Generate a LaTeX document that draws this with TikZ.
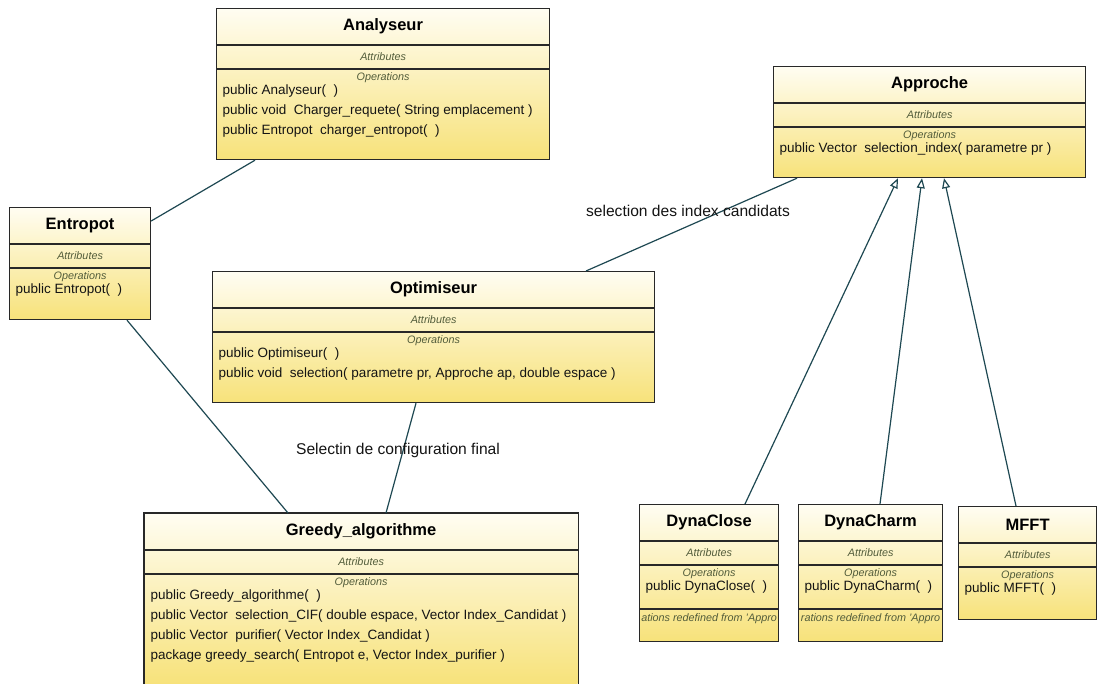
\documentclass[tikz,border=0pt]{standalone}
\usepackage{fontspec}
\setmainfont{Liberation Sans}
\usetikzlibrary{calc,arrows.meta}

\definecolor{boxline}{RGB}{40,40,40}
\definecolor{boxtop}{RGB}{255,253,242}
\definecolor{boxbottom}{RGB}{247,226,122}
\definecolor{linkline}{RGB}{30,72,82}
\definecolor{subtext}{RGB}{82,92,58}
\definecolor{optext}{RGB}{20,20,20}

\tikzset{
  classbox/.style={draw=boxline, line width=1.2pt, rectangle, inner sep=0pt,
    anchor=north west, top color=boxtop, bottom color=boxbottom},
  classname/.style={font=\fontsize{16.5}{16.5}\selectfont\bfseries, text=black, inner sep=0pt},
  classrule/.style={draw=boxline, line width=1.1pt},
  compartment/.style={font=\fontsize{10.8}{10.8}\selectfont\itshape, text=subtext, inner sep=0pt},
  operation/.style={font=\fontsize{13.5}{13.5}\selectfont, text=optext, inner sep=0pt, anchor=west},
  link/.style={draw=linkline, line width=1.2pt},
  inherits/.style={link, -{Triangle[open, length=10pt, width=8pt]}},
  linklabel/.style={font=\fontsize{15.6}{15.6}\selectfont, text=optext, inner sep=0pt}
}

% class box: name, x, y, width, height, title
\newcommand{\umlclass}[6]{%
  \node[classbox, minimum width=#4, minimum height=#5] (#1) at (#2,#3) {};
  \node[classname] (#1-name) at ($(#1.north)+(0,18.5)$) {#6};
  \draw[classrule] ($(#1.north west)+(0,37)$) -- ($(#1.north east)+(0,37)$);
  \draw[classrule] ($(#1.north west)+(0,61)$) -- ($(#1.north east)+(0,61)$);
  \node[compartment] (#1-attr) at ($(#1.north)+(0,49)$) {Attributes};
  \node[compartment] (#1-ops) at ($(#1.north)+(0,70)$) {Operations};
}
% operation line: class, index (0 = first), text
\newcommand{\umlop}[3]{%
  \node[operation] (#1-op#2) at ($(#1.north west)+(6.5,83+20*#2)$) {#3};
}

\begin{document}
\begin{tikzpicture}[x=1pt,y=-1pt]
\useasboundingbox[fill=white] (0,0) rectangle (1098,684);

% --- Analyseur
\umlclass{analyseur}{216}{8}{333}{151}{Analyseur}
\umlop{analyseur}{0}{public Analyseur(\ \ )}
\umlop{analyseur}{1}{public void\ \ Charger\_requete( String emplacement )}
\umlop{analyseur}{2}{public Entropot\ \ charger\_entropot(\ \ )}

% --- Entropot
\umlclass{entropot}{9}{207}{141}{112}{Entropot}
\umlop{entropot}{0}{public Entropot(\ \ )}

% --- Approche
\umlclass{approche}{773}{66}{312}{111}{Approche}
\umlop{approche}{0}{public Vector\ \ selection\_index( parametre pr )}

% --- Optimiseur
\umlclass{optimiseur}{212}{271}{442}{131}{Optimiseur}
\umlop{optimiseur}{0}{public Optimiseur(\ \ )}
\umlop{optimiseur}{1}{public void\ \ selection( parametre pr, Approche ap, double espace )}

% --- Greedy_algorithme (runs past the lower edge)
\node[classbox, draw=none, minimum width=433, minimum height=171] (greedy) at (144,513) {};
\draw[classrule, line width=1.2pt] (greedy.south west) -- (greedy.north west) -- (greedy.north east) -- (greedy.south east);
\node[classname] (greedy-name) at ($(greedy.north)+(0,18.5)$) {Greedy\_algorithme};
\draw[classrule] ($(greedy.north west)+(0,37)$) -- ($(greedy.north east)+(0,37)$);
\draw[classrule] ($(greedy.north west)+(0,61)$) -- ($(greedy.north east)+(0,61)$);
\node[compartment] (greedy-attr) at ($(greedy.north)+(0,49)$) {Attributes};
\node[compartment] (greedy-ops) at ($(greedy.north)+(0,70)$) {Operations};
\umlop{greedy}{0}{public Greedy\_algorithme(\ \ )}
\umlop{greedy}{1}{public Vector\ \ selection\_CIF( double espace, Vector Index\_Candidat )}
\umlop{greedy}{2}{public Vector\ \ purifier( Vector Index\_Candidat )}
\umlop{greedy}{3}{package greedy\_search( Entropot e, Vector Index\_purifier )}

% --- subclasses of Approche
\umlclass{dynaclose}{639}{504}{139}{137}{DynaClose}
\umlop{dynaclose}{0}{public DynaClose(\ \ )}
\umlclass{dynacharm}{798}{504}{144}{137}{DynaCharm}
\umlop{dynacharm}{0}{public DynaCharm(\ \ )}
\umlclass{mfft}{958}{506}{138}{113}{MFFT}
\umlop{mfft}{0}{public MFFT(\ \ )}

% redefined-operations compartment (its text is cut at the box sides)
\foreach \cls/\txt in {dynaclose/{ations redefined from 'Appro},dynacharm/{rations redefined from 'Appro}}{
  \draw[classrule] ($(\cls.north west)+(0,105)$) -- ($(\cls.north east)+(0,105)$);
  \begin{scope}
    \clip (\cls.north west) rectangle (\cls.south east);
    \node[compartment] (\cls-redef) at ($(\cls.north)+(0,115)$) {\txt};
  \end{scope}
}

% --- associations
\draw[link] ($(analyseur.south west)+(39,0)$) -- ($(entropot.north east)+(0,14)$);
\draw[link] ($(entropot.south west)+(118,0)$) -- ($(greedy.north west)+(144,0)$);
\draw[link] ($(optimiseur.south west)+(204,0)$) -- ($(greedy.north west)+(242,0)$);
\draw[link] ($(approche.south west)+(24,0)$) -- ($(optimiseur.north west)+(374,0)$);

\node[linklabel] (lbl-index) at (688,211) {selection des index candidats};
\node[linklabel] (lbl-config) at (398,450) {Selectin de configuration final};

% --- generalisations
\draw[inherits] ($(dynaclose.north west)+(106,0)$) -- ($(approche.south west)+(125,0)$);
\draw[inherits] ($(dynacharm.north west)+(82,0)$) -- ($(approche.south west)+(149,0)$);
\draw[inherits] ($(mfft.north west)+(58,0)$) -- ($(approche.south west)+(171,0)$);

\end{tikzpicture}
\end{document}
